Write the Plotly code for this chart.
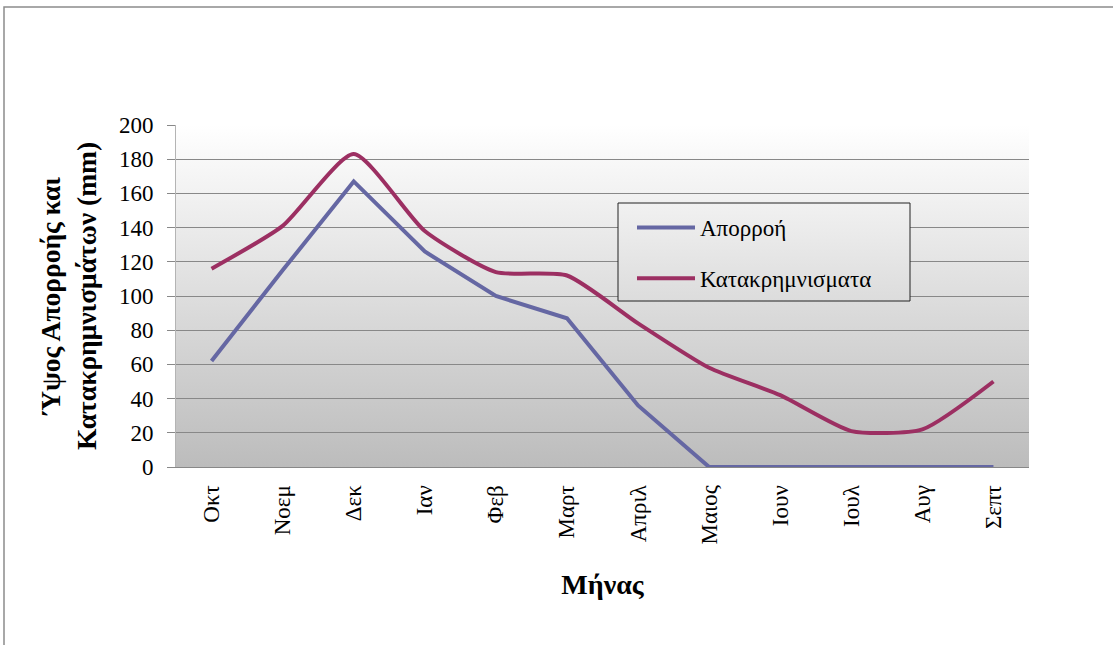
import base64
import plotly.graph_objects as go

# Monthly values (mm), hydrological year October-September
months = ["Οκτ", "Νοεμ", "Δεκ", "Ιαν", "Φεβ", "Μαρτ", "Απριλ", "Μαιος",
          "Ιουν", "Ιουλ", "Αυγ", "Σεπτ"]
runoff = [62, 115, 167, 126, 100, 87, 36, 0, 0, 0, 0, 0]
precipitation = [116, 141, 183, 138, 114, 112, 84, 58, 42, 21, 22, 50]
y_ticks = [0, 20, 40, 60, 80, 100, 120, 140, 160, 180, 200]

FONT = "Liberation Serif, Times New Roman, serif"
W, H = 1113, 645
L, R, T, B = 176, 84, 125, 178
PW, PH = W - L - R, H - T - B


def px_x(x):
    return (x - L) / PW


def px_y(y):
    return (H - B - y) / PH


def gradient_uri(top, bottom):
    svg = (
        '<svg xmlns="http://www.w3.org/2000/svg" width="100" height="100" '
        'preserveAspectRatio="none"><defs><linearGradient id="g" x1="0" y1="0" '
        f'x2="0" y2="1"><stop offset="0" stop-color="{top}"/>'
        f'<stop offset="1" stop-color="{bottom}"/></linearGradient></defs>'
        '<rect width="100" height="100" fill="url(#g)"/></svg>'
    )
    return "data:image/svg+xml;base64," + base64.b64encode(svg.encode()).decode()


fig = go.Figure()
fig.add_trace(go.Scatter(
    x=months, y=runoff, name="Απορροή", mode="lines",
    line=dict(color="#6567a3", width=4), legendgroup="a",
))
fig.add_trace(go.Scatter(
    x=months, y=precipitation, name="Κατακρημνισματα", mode="lines",
    line=dict(color="#9c2f62", width=4, shape="spline", smoothing=0.6),
    legendgroup="b",
))

# legend box edges (px)
lx0, lx1, ly0, ly1 = 618, 910, 203, 301

fig.update_layout(
    width=W, height=H,
    margin=dict(l=L, r=R, t=T, b=B),
    paper_bgcolor="white",
    plot_bgcolor="rgba(0,0,0,0)",
    font=dict(family=FONT, color="black", size=23),
    showlegend=True,
    legend=dict(
        x=px_x(632), y=px_y(206), xanchor="left", yanchor="top",
        bgcolor="rgba(0,0,0,0)", borderwidth=0,
        font=dict(family=FONT, size=23, color="black"),
        tracegroupgap=18, itemwidth=58,
    ),
    xaxis=dict(
        type="category", range=[-0.5, 11.5],
        tickangle=-90, ticks="", ticklabelstandoff=8,
        tickfont=dict(family=FONT, size=23),
        showgrid=False, showline=True, linecolor="#888888", linewidth=1,
        title=dict(text="<b>Μήνας</b>", standoff=30,
                   font=dict(family=FONT, size=28)),
    ),
    yaxis=dict(
        range=[0, 200], tickvals=y_ticks,
        ticks="outside", ticklen=8, tickcolor="#888888",
        ticklabelstandoff=9,
        tickfont=dict(family=FONT, size=23),
        showgrid=True, gridcolor="#888888", gridwidth=1,
        zeroline=False, showline=True, linecolor="#b4b4b4", linewidth=1,
        title=dict(text="<b>Ύψος Απορροής και<br>Κατακρημνισμάτων (mm)</b>",
                   standoff=14, font=dict(family=FONT, size=27.5)),
    ),
    images=[
        dict(source=gradient_uri("#ffffff", "#bcbcbc"), xref="paper", yref="paper",
             x=0, y=1, sizex=1, sizey=1, sizing="stretch", layer="below"),
        dict(source=gradient_uri("#f1f1f1", "#dcdcdc"), xref="paper", yref="paper",
             x=px_x(lx0), y=px_y(ly0), sizex=px_x(lx1) - px_x(lx0),
             sizey=px_y(ly0) - px_y(ly1), sizing="stretch", layer="above"),
    ],
    shapes=[
        dict(type="rect", xref="paper", yref="paper",
             x0=px_x(lx0), x1=px_x(lx1), y0=px_y(ly1), y1=px_y(ly0),
             line=dict(color="#222222", width=1), fillcolor="rgba(0,0,0,0)",
             layer="above"),
        dict(type="rect", xref="paper", yref="paper",
             x0=px_x(4), x1=px_x(1200), y0=px_y(700), y1=px_y(7),
             line=dict(color="#8c8c8c", width=1.5), fillcolor="rgba(0,0,0,0)",
             layer="below"),
    ],
)

fig.write_html("out.html")
